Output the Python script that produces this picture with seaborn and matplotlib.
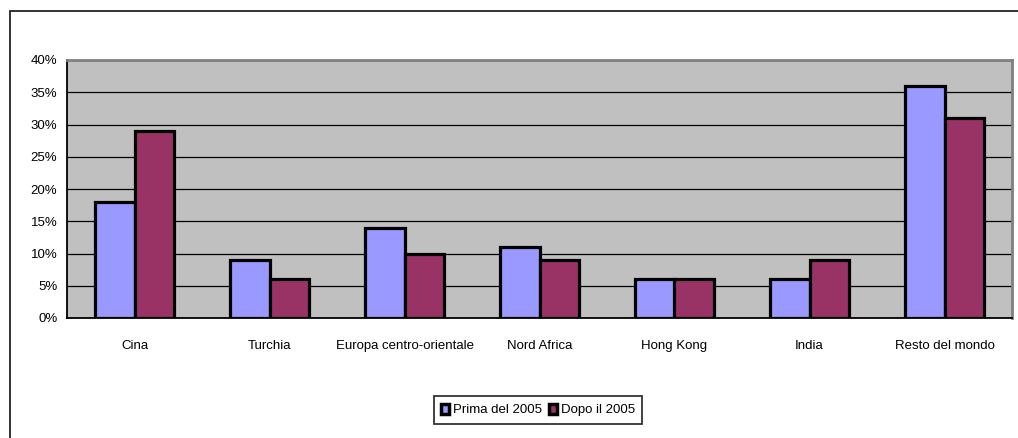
import pandas as pd
import matplotlib.pyplot as plt
import seaborn as sns
from matplotlib.patches import Rectangle
from matplotlib.ticker import FixedLocator, PercentFormatter

# Data
categories = ["Cina", "Turchia", "Europa centro-orientale", "Nord Africa",
              "Hong Kong", "India", "Resto del mondo"]
prima_2005 = [18, 9, 14, 11, 6, 6, 36]
dopo_2005 = [29, 6, 10, 9, 6, 9, 31]
series_names = ["Prima del 2005", "Dopo il 2005"]

df = pd.DataFrame({
    "paese": categories * 2,
    "quota": prima_2005 + dopo_2005,
    "periodo": [series_names[0]] * len(categories) + [series_names[1]] * len(categories),
})

sns.set_style("white")
plt.rcParams["font.family"] = ["Liberation Sans Narrow", "Liberation Sans", "DejaVu Sans"]
plt.rcParams["text.color"] = "black"
plt.rcParams["xtick.color"] = "black"
plt.rcParams["ytick.color"] = "black"

fig = plt.figure(figsize=(10.18, 4.38), dpi=100)
ax = fig.add_axes([67 / 1018, 1 - 318 / 438, (1012 - 67) / 1018, (318 - 60) / 438])

# outer frame of the chart object
fig.patches.append(Rectangle((10 / 1018, -0.2), 1.5, 1 - 11 / 438 + 0.2,
                             transform=fig.transFigure, fill=False,
                             edgecolor="#222222", linewidth=1.3, zorder=0))

ax.set_facecolor("#C0C0C0")
sns.barplot(data=df, x="paese", y="quota", hue="periodo",
            palette=["#9999FF", "#993366"], saturation=1, edgecolor="black",
            linewidth=2.3, width=0.58, gap=0, ax=ax, zorder=3)

ax.set_ylim(0, 40)
ax.set_xlim(-0.5, len(categories) - 0.5)
ax.set_yticks(range(0, 41, 5))
ax.yaxis.set_major_formatter(PercentFormatter(decimals=0))
ax.grid(axis="y", color="black", linewidth=0.9, zorder=1)
ax.set_axisbelow(True)

ax.set_xlabel("")
ax.set_ylabel("")
ax.xaxis.set_minor_locator(FixedLocator([i - 0.5 for i in range(len(categories) + 1)]))
ax.tick_params(axis="x", which="major", length=0, pad=16, labelsize=9.5)
ax.tick_params(axis="x", which="minor", length=4, width=1, color="black", direction="out")
ax.tick_params(axis="y", length=4, width=1, color="black", direction="out", labelsize=9.5, pad=3)

for side in ["left", "bottom"]:
    ax.spines[side].set_color("black")
    ax.spines[side].set_linewidth(1.3)
for side in ["top", "right"]:
    ax.spines[side].set_color("#808080")
    ax.spines[side].set_linewidth(2)

handles, labels = ax.get_legend_handles_labels()
ax.get_legend().remove()
leg = fig.legend(handles, labels, loc="center", bbox_to_anchor=(538 / 1018, 1 - 410 / 438),
                 ncol=2, frameon=True, fancybox=False, edgecolor="black",
                 fontsize=9.5, handlelength=0.6, handleheight=0.8, handletextpad=0.3,
                 columnspacing=0.5, borderpad=0.55, borderaxespad=0)
leg.get_frame().set_linewidth(1.3)
for patch in leg.get_patches():
    patch.set_linewidth(2.5)

fig.savefig("out.png", dpi=100)
